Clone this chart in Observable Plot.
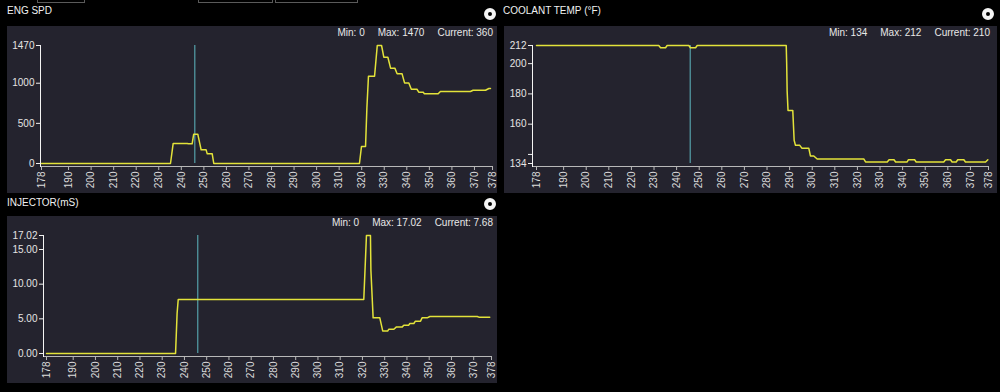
<!DOCTYPE html>
<html>
<head>
<meta charset="utf-8">
<script src="https://cdn.jsdelivr.net/npm/d3@7"></script>
<script src="https://cdn.jsdelivr.net/npm/@observablehq/plot@0.6"></script>
<style>
  html, body { margin: 0; padding: 0; background: #000; }
  #root { position: relative; width: 1000px; height: 392px; background: #000; overflow: hidden;
          font-family: "Liberation Sans", Arial, sans-serif; color: #fff; }
  .panel { position: absolute; background: #24232e; }
  .panel svg { position: absolute; left: 0; top: 0; }
  .title { position: absolute; font-size: 10px; color: #f0f0f0; white-space: nowrap; }
  .stats { position: absolute; font-size: 10px; color: #e8e8e8; white-space: nowrap; display: flex; gap: 13px; z-index: 2; }
  .icon { position: absolute; width: 4px; height: 4px; border: 4px solid #f4f4f4; border-radius: 50%; background: #000; }
  .btn { position: absolute; top: -1px; height: 2px; border: 1px solid #5a5a5a; }
</style>
</head>
<body>
<div id="root"></div>
<script>
// ---------- data ----------
const xTicks = [178, 190, 200, 210, 220, 230, 240, 250, 260, 270, 280, 290, 300, 310, 320, 330, 340, 350, 360, 370, 378];
const cursorX = 246;

const engTime = [178, 235.2, 236.4, 242.6, 243.2, 244.8, 245.5, 247.3, 248.8, 251.0, 251.5, 253.7, 254.4, 319, 319.9, 321.7, 322.3, 323, 325.7, 326.9, 328.8, 329.8, 331.6, 332.8, 334.7, 335.7, 337.9, 339, 340.9, 342, 344.5, 345.3, 347.3, 347.8, 353.9, 354.9, 368.2, 369.4, 374.9, 376.4, 377.1];
const engSpd  = [0, 0, 250, 250, 245, 245, 365, 365, 170, 170, 120, 120, 0, 0, 212, 212, 694, 1088, 1088, 1470, 1470, 1324, 1324, 1188, 1188, 1117, 1117, 1004, 1004, 925, 925, 888, 888, 868, 868, 897, 897, 913, 913, 934, 934];
const engTicks = [0, 500, 1000, 1470];

const coolTime = [178, 232.1, 232.9, 235.1, 235.8, 245.4, 246.1, 248.4, 249.1, 288.5, 288.7, 288.9, 289.3, 291.4, 292, 292.6, 294.5, 295.5, 298.5, 299.2, 300.7, 302.2, 322.8, 323.6, 333.2, 334, 336.2, 336.9, 342, 342.6, 345.3, 346, 358.2, 359, 361.2, 361.9, 363.7, 364.4, 367.1, 367.8, 376.7, 377.7];
const coolTemp = [212, 212, 210.5, 210.5, 212, 212, 210.5, 210.5, 212, 212, 200, 182, 169, 169, 149.4, 146, 146, 144, 144, 139, 139, 137, 137, 135, 135, 136.5, 136.5, 135, 135, 136.5, 136.5, 135, 135, 136.5, 136.5, 135, 135, 136.5, 136.5, 135, 135, 136.5];
const coolTicks = [134, 140, 160, 180, 200, 212];
const coolLabelled = [134, 160, 180, 200, 212];

const injTime = [178, 236, 236.3, 236.7, 237.2, 320.6, 321.8, 323.6, 323.8, 324.8, 327.8, 329.1, 331.4, 331.8, 334.1, 335.3, 337.9, 338.6, 340.8, 341.3, 343.1, 343.8, 346.1, 346.8, 349.1, 350.3, 371.6, 372.3, 377.2];
const injMs   = [0, 0, 2.5, 5.8, 7.79, 7.79, 17.02, 17.02, 12, 5.14, 5.14, 3.26, 3.26, 3.5, 3.5, 3.84, 3.84, 4.08, 4.08, 4.33, 4.33, 4.66, 4.66, 5.14, 5.14, 5.34, 5.34, 5.24, 5.24];
const injTicks = [0, 5, 10, 15, 17.02];

// ---------- layout helpers ----------
const root = document.getElementById("root");
function el(cls, style, html) {
  const d = document.createElement("div");
  d.className = cls;
  Object.assign(d.style, style);
  if (html != null) d.innerHTML = html;
  root.appendChild(d);
  return d;
}

// top cut-off buttons
el("btn", {left: "37px", width: "46px"});
el("btn", {left: "198px", width: "73px"});
el("btn", {left: "275px", width: "81px"});

function panel(cfg) {
  el("title", {left: cfg.titleX + "px", top: cfg.titleY + "px"}, cfg.title);
  el("icon", {left: (cfg.iconX - 6) + "px", top: (cfg.iconY - 6) + "px"});
  const p = el("panel", {left: cfg.left + "px", top: cfg.top + "px", width: cfg.width + "px", height: cfg.height + "px"});
  const data = cfg.xs.map((x, i) => ({x, y: cfg.ys[i]}));
  const chart = Plot.plot({
    width: cfg.width,
    height: cfg.height,
    marginLeft: cfg.ml, marginRight: cfg.mr, marginTop: 19, marginBottom: 27,
    insetLeft: cfg.il, insetBottom: 3,
    style: {background: "#24232e", color: "#e4e4e4", fontFamily: "'Liberation Sans', Arial, sans-serif", fontSize: "10px", overflow: "visible"},
    x: {domain: [178, 378], label: null},
    y: {domain: cfg.yDomain, label: null},
    marks: [
      Plot.axisX({ticks: xTicks, label: null, tickRotate: -90, tickSize: 4, tickPadding: 1, stroke: "#b8b8b8", fill: "#dcdcdc", fontSize: 10, tickFormat: d => String(d)}),
      Plot.axisY({ticks: cfg.yTicks, label: null, tickSize: 4, tickPadding: 2, stroke: "#f0f0f0", fill: "#e4e4e4", fontSize: 10, tickFormat: cfg.yFormat}),
      Plot.frame({anchor: "bottom", stroke: "#b8b8b8"}),
      Plot.frame({anchor: "left", stroke: "#f4f4f4"}),
      Plot.ruleX([cursorX], {y1: cfg.yDomain[0], y2: cfg.yDomain[1], stroke: "#5fb9c2", strokeWidth: 1}),
      Plot.line(data, {x: "x", y: "y", stroke: "#e3e33a", strokeWidth: 1.5})
    ]
  });
  p.appendChild(chart);
  el("stats", {right: (1000 - cfg.statsRight) + "px", top: (cfg.top + 1) + "px"},
    cfg.stats.map(t => `<span>${t}</span>`).join(""));
  return chart;
}

panel({
  title: "ENG SPD", titleX: 7, titleY: 5, iconX: 490, iconY: 14,
  left: 7, top: 26, width: 490, height: 167, ml: 33, mr: 5, il: 1,
  xs: engTime, ys: engSpd, yDomain: [0, 1470], yTicks: engTicks, yFormat: d => String(d),
  stats: ["Min: 0", "Max: 1470", "Current: 360"], statsRight: 493
});

panel({
  title: "COOLANT TEMP (°F)", titleX: 503, titleY: 5, iconX: 988, iconY: 14,
  left: 504, top: 26, width: 493, height: 167, ml: 28, mr: 9, il: 4,
  xs: coolTime, ys: coolTemp, yDomain: [134, 212], yTicks: coolTicks,
  yFormat: d => coolLabelled.includes(d) ? String(d) : "",
  stats: ["Min: 134", "Max: 212", "Current: 210"], statsRight: 990
});

panel({
  title: "INJECTOR(mS)", titleX: 7, titleY: 197, iconX: 490, iconY: 204,
  left: 7, top: 216, width: 490, height: 167, ml: 36, mr: 6, il: 3,
  xs: injTime, ys: injMs, yDomain: [0, 17.02], yTicks: injTicks, yFormat: d => d.toFixed(2),
  stats: ["Min: 0", "Max: 17.02", "Current: 7.68"], statsRight: 493
});
</script>
</body>
</html>
